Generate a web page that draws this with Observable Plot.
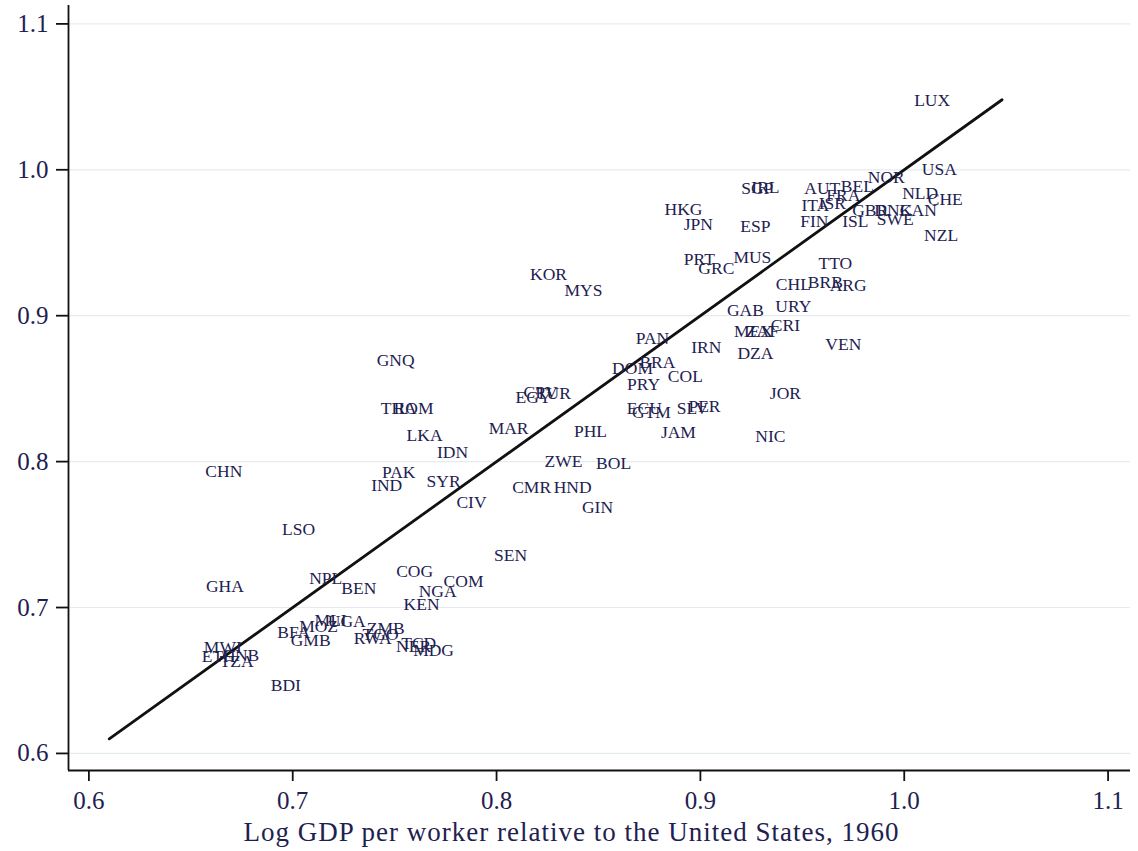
<!DOCTYPE html>
<html>
<head>
<meta charset="utf-8">
<script src="https://cdn.jsdelivr.net/npm/d3@7"></script>
<script src="https://cdn.jsdelivr.net/npm/@observablehq/plot@0.6"></script>
<style>
  html, body { margin: 0; padding: 0; background: #fff; }
  #chart { width: 1138px; height: 851px; }
</style>
</head>
<body>
<div id="chart"></div>
<script>
const codes = ["LUX","USA","NOR","NLD","CHE","CAN","DNK","GBR","SWE","NZL","ISL","FIN","ITA","ISR","FRA","AUT","BEL","SGP","IRL","HKG","JPN","ESP","PRT","GRC","MUS","KOR","MYS","TTO","CHL","BRB","ARG","GAB","URY","MEX","ZAF","CRI","DZA","VEN","IRN","PAN","DOM","BRA","PRY","COL","JOR","ECU","GTM","SLV","PER","JAM","NIC","PHL","MAR","EGY","CPV","TUR","ZWE","BOL","CMR","HND","GIN","SEN","GNQ","THA","ROM","LKA","IDN","PAK","IND","SYR","CIV","CHN","LSO","GHA","NPL","BEN","COG","NGA","COM","KEN","BFA","MOZ","MLI","UGA","GMB","ZMB","TGO","RWA","NER","TCD","MDG","MWI","ETH","GNB","TZA","BDI"];
const gdp1960 = [1.0137,1.0172,0.9912,1.0078,1.0201,1.0069,0.9946,0.9833,0.9956,1.0181,0.9760,0.9559,0.9564,0.9647,0.9701,0.9598,0.9770,0.9279,0.9319,0.8917,0.8990,0.9270,0.8995,0.9078,0.9255,0.8255,0.8426,0.9662,0.9456,0.9613,0.9725,0.9221,0.9456,0.9260,0.9304,0.9417,0.9270,0.9701,0.9029,0.8765,0.8667,0.8789,0.8721,0.8926,0.9417,0.8725,0.8760,0.8961,0.9020,0.8892,0.9343,0.8461,0.8059,0.8181,0.8216,0.8279,0.8328,0.8574,0.8172,0.8373,0.8495,0.8069,0.7505,0.7520,0.7593,0.7647,0.7784,0.7520,0.7461,0.7740,0.7877,0.6662,0.7029,0.6667,0.7162,0.7324,0.7598,0.7711,0.7838,0.7632,0.7005,0.7127,0.7186,0.7265,0.7088,0.7456,0.7431,0.7392,0.7593,0.7618,0.7691,0.6657,0.6637,0.6745,0.6725,0.6966];
const yVals = [1.0479,1.0000,0.9951,0.9841,0.9800,0.9724,0.9724,0.9724,0.9663,0.9553,0.9649,0.9649,0.9759,0.9772,0.9827,0.9875,0.9889,0.9875,0.9882,0.9731,0.9628,0.9614,0.9388,0.9326,0.9402,0.9285,0.9176,0.9361,0.9217,0.9230,0.9210,0.9038,0.9066,0.8894,0.8894,0.8936,0.8743,0.8805,0.8785,0.8846,0.8641,0.8682,0.8531,0.8586,0.8469,0.8366,0.8339,0.8366,0.8380,0.8202,0.8174,0.8208,0.8229,0.8442,0.8476,0.8469,0.8003,0.7989,0.7824,0.7824,0.7687,0.7358,0.8695,0.8366,0.8366,0.8181,0.8064,0.7927,0.7838,0.7866,0.7722,0.7934,0.7536,0.7145,0.7200,0.7132,0.7248,0.7111,0.7180,0.7022,0.6830,0.6871,0.6912,0.6905,0.6775,0.6857,0.6816,0.6789,0.6734,0.6754,0.6706,0.6727,0.6665,0.6672,0.6631,0.6466];
const lineX = [0.61, 1.048];
const ticks = [0.6, 0.7, 0.8, 0.9, 1.0, 1.1];
const xLabel = "Log GDP per worker relative to the United States, 1960";

const points = codes.map((c, i) => ({code: c, x: gdp1960[i], y: yVals[i]}));
const fitLine = lineX.map(v => ({x: v, y: v}));

const xDomain = [0.59, 1.111];
const yDomain = [0.5883, 1.1126];
const ink = "#1e2150";

const chart = Plot.plot({
  width: 1138,
  height: 851,
  marginLeft: 68,
  marginRight: 8,
  marginTop: 5,
  marginBottom: 81,
  style: {fontFamily: "'Liberation Serif', 'DejaVu Serif', serif", background: "#fff"},
  x: {domain: xDomain, ticks: ticks},
  y: {domain: yDomain, ticks: ticks},
  marks: [
    Plot.ruleY(ticks, {stroke: "#e3ecf1", strokeWidth: 1.2}),
    Plot.axisY(ticks, {anchor: "left", tickSize: 12, tickPadding: 8, fontSize: 25, fill: ink, stroke: "#111", strokeWidth: 1.8, tickFormat: d3.format(".1f"), label: null}),
    Plot.axisX(ticks, {anchor: "bottom", tickSize: 11, tickPadding: 10, fontSize: 25, fill: ink, stroke: "#111", strokeWidth: 1.8, tickFormat: d3.format(".1f"), label: null}),
    Plot.ruleX([xDomain[0]], {stroke: "#111", strokeWidth: 1.8}),
    Plot.ruleY([yDomain[0]], {stroke: "#111", strokeWidth: 1.8}),
    Plot.line(fitLine, {x: "x", y: "y", stroke: "#111", strokeWidth: 2.8}),
    Plot.text(points, {x: "x", y: "y", text: "code", fontSize: 17.5, fill: ink}),
    Plot.text([xLabel], {frameAnchor: "bottom", lineAnchor: "middle", dx: -28, dy: 62, fontSize: 27, fill: ink, text: d => d})
  ]
});
d3.select(chart).selectAll("text").filter(function() { return this.textContent === xLabel; })
  .style("letter-spacing", "1px");
document.getElementById("chart").appendChild(chart);
</script>
</body>
</html>
